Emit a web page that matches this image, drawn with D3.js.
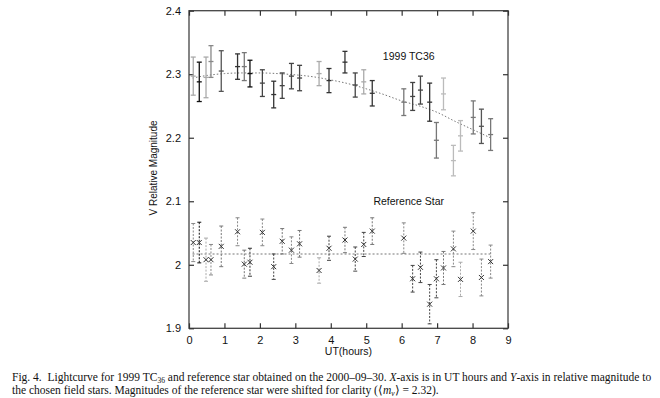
<!DOCTYPE html>
<html>
<head>
<meta charset="utf-8">
<script src="https://cdn.jsdelivr.net/npm/d3@7"></script>
<style>
  body { margin: 0; background: #fff; }
  svg text { font-family: "Liberation Sans", Arial, sans-serif; }
  .cap text { font-family: "Liberation Serif", "Times New Roman", serif; }
</style>
</head>
<body>
<div id="chart-area"></div>
<script>
// observation times (UT hours), shared by both series
var times = [0.12, 0.29, 0.48, 0.62, 0.91, 1.37, 1.56, 1.72, 2.07, 2.39,
             2.63, 2.89, 3.12, 3.67, 3.95, 4.40, 4.69, 4.93, 5.17, 6.06,
             6.31, 6.53, 6.79, 6.98, 7.18, 7.46, 7.66, 8.02, 8.25, 8.51];

// 1999 TC36 magnitudes and errors
var tcMag = [2.297, 2.288, 2.295, 2.320, 2.305, 2.312, 2.312, 2.301, 2.286, 2.268,
             2.282, 2.297, 2.294, 2.301, 2.290, 2.319, 2.283, 2.288, 2.270, 2.256,
             2.265, 2.275, 2.256, 2.196, 2.269, 2.164, 2.203, 2.232, 2.218, 2.205];
var tcErr = [0.030, 0.031, 0.032, 0.025, 0.032, 0.020, 0.022, 0.021, 0.021, 0.021,
             0.020, 0.020, 0.020, 0.019, 0.019, 0.017, 0.019, 0.019, 0.020, 0.021,
             0.022, 0.022, 0.030, 0.028, 0.025, 0.024, 0.024, 0.026, 0.027, 0.025];

// reference star magnitudes (shifted) and errors
var refMag = [2.035, 2.035, 2.008, 2.008, 2.029, 2.052, 2.001, 2.004, 2.051, 1.997,
              2.037, 2.023, 2.033, 1.991, 2.026, 2.039, 2.009, 2.032, 2.053, 2.042,
              1.978, 1.996, 1.938, 1.978, 1.995, 2.025, 1.977, 2.053, 1.980, 2.005];
var refErr = [0.030, 0.032, 0.034, 0.024, 0.032, 0.022, 0.022, 0.022, 0.021, 0.020,
              0.020, 0.021, 0.021, 0.020, 0.019, 0.020, 0.019, 0.019, 0.021, 0.024,
              0.021, 0.024, 0.031, 0.030, 0.026, 0.028, 0.027, 0.029, 0.029, 0.026];

// fitted curve for TC36
var fitX = [0.1, 0.5, 1, 1.5, 2, 2.5, 3, 3.5, 4, 4.5, 5, 5.5, 6, 6.5, 7, 7.5, 8, 8.5];
var fitY = [2.294, 2.298, 2.301, 2.302, 2.302, 2.301, 2.299, 2.296, 2.291, 2.285,
            2.277, 2.268, 2.258, 2.250, 2.240, 2.226, 2.213, 2.200];

// mean level of reference star
var refLevelX = [0.1, 8.5];
var refLevel = 2.017;

var xTicks = [0, 1, 2, 3, 4, 5, 6, 7, 8, 9];
var yTicks = [1.9, 2.0, 2.1, 2.2, 2.3, 2.4];
var yTickLabels = ["1.9", "2", "2.1", "2.2", "2.3", "2.4"];

// grey shades of each bar (styles)
var tcShade = ["#aaa", "#111", "#aaa", "#888", "#555", "#333", "#777", "#111", "#444", "#333",
               "#444", "#444", "#444", "#aaa", "#333", "#333", "#444", "#aaa", "#333", "#777",
               "#444", "#444", "#333", "#777", "#bbb", "#bbb", "#bbb", "#777", "#555", "#777"];
var refShade = ["#888", "#111", "#aaa", "#888", "#777", "#888", "#777", "#333", "#888", "#444",
                "#777", "#888", "#777", "#aaa", "#444", "#777", "#444", "#444", "#777", "#888",
                "#444", "#444", "#444", "#444", "#777", "#888", "#aaa", "#888", "#888", "#888"];

var W = 660, H = 398;
var plot = {left: 189, right: 508, top: 10.7, bottom: 328.3};

var svg = d3.select('#chart-area')
    .append('svg')
        .attr('width', W)
        .attr('height', H);

var x = d3.scaleLinear()
    .domain([0, 9])
    .range([plot.left, plot.right]);

var y = d3.scaleLinear()
    .domain([1.9, 2.4])
    .range([plot.bottom, plot.top]);

// frame
svg.append('rect')
    .attr('x', plot.left)
    .attr('y', plot.top)
    .attr('width', plot.right - plot.left)
    .attr('height', plot.bottom - plot.top)
    .attr('fill', 'none')
    .attr('stroke', '#444')
    .attr('stroke-width', 1.3);

// axes with inward ticks
var bottomAxis = d3.axisBottom(x).tickValues(xTicks).tickSizeInner(-5).tickSizeOuter(0).tickPadding(8);
var gx = svg.append('g')
    .attr('class', 'bottom axis')
    .attr('transform', 'translate(0,' + plot.bottom + ')')
    .call(bottomAxis);

var leftAxis = d3.axisLeft(y).tickValues(yTicks).tickSizeInner(-5).tickSizeOuter(0).tickPadding(8)
    .tickFormat((d, i) => yTickLabels[i]);
var gy = svg.append('g')
    .attr('class', 'left axis')
    .attr('transform', 'translate(' + plot.left + ',0)')
    .call(leftAxis);

var topAxis = d3.axisTop(x).tickValues(xTicks).tickSizeInner(-5).tickSizeOuter(0).tickFormat('');
var gt = svg.append('g')
    .attr('transform', 'translate(0,' + plot.top + ')')
    .call(topAxis);

var rightAxis = d3.axisRight(y).tickValues(yTicks).tickSizeInner(-5).tickSizeOuter(0).tickFormat('');
var gr = svg.append('g')
    .attr('transform', 'translate(' + plot.right + ',0)')
    .call(rightAxis);

[gx, gy, gt, gr].forEach((g) => {
    g.select('.domain').remove();
    g.selectAll('line').attr('stroke', '#333').attr('stroke-width', 1.2);
    g.selectAll('text').attr('font-size', '11px').attr('fill', '#111');
});

// axis labels
svg.append('text')
    .attr('x', (plot.left + plot.right) / 2)
    .attr('y', 355)
    .attr('text-anchor', 'middle')
    .attr('font-size', '10.5px')
    .attr('fill', '#111')
    .text('UT(hours)');

svg.append('text')
    .attr('transform', 'translate(157,168) rotate(-90)')
    .attr('text-anchor', 'middle')
    .attr('font-size', '10px')
    .attr('fill', '#111')
    .text('V Relative Magnitude');

// fitted curve
var line = d3.line()
    .x((d) => x(d[0]))
    .y((d) => y(d[1]))
    .curve(d3.curveMonotoneX);

svg.append('path')
    .datum(fitX.map((d, i) => [d, fitY[i]]))
    .attr('d', line)
    .attr('fill', 'none')
    .attr('stroke', '#777')
    .attr('stroke-width', 1)
    .attr('stroke-dasharray', '1.5,2');

svg.append('path')
    .datum(refLevelX.map((d) => [d, refLevel]))
    .attr('d', line)
    .attr('fill', 'none')
    .attr('stroke', '#777')
    .attr('stroke-width', 1.2)
    .attr('stroke-dasharray', '2,2');

// TC36 error bars
var tc = svg.append('g').selectAll('g').data(times).enter().append('g')
    .attr('stroke', (d, i) => tcShade[i])
    .attr('stroke-width', 1.3);

tc.append('line')
    .attr('x1', (d) => x(d)).attr('x2', (d) => x(d))
    .attr('y1', (d, i) => y(tcMag[i] + tcErr[i]))
    .attr('y2', (d, i) => y(tcMag[i] - tcErr[i]));
[1, 0, -1].forEach((k) => {
    tc.append('line')
        .attr('x1', (d) => x(d) - 2.5).attr('x2', (d) => x(d) + 2.5)
        .attr('y1', (d, i) => y(tcMag[i] + k * tcErr[i]))
        .attr('y2', (d, i) => y(tcMag[i] + k * tcErr[i]));
});

// reference star error bars
var rs = svg.append('g').selectAll('g').data(times).enter().append('g')
    .attr('stroke', (d, i) => refShade[i])
    .attr('stroke-width', 1);

rs.append('line')
    .attr('x1', (d) => x(d)).attr('x2', (d) => x(d))
    .attr('y1', (d, i) => y(refMag[i] + refErr[i]))
    .attr('y2', (d, i) => y(refMag[i] - refErr[i]))
    .attr('stroke-dasharray', '2,1.5');
[1, -1].forEach((k) => {
    rs.append('line')
        .attr('x1', (d) => x(d) - 2).attr('x2', (d) => x(d) + 2)
        .attr('y1', (d, i) => y(refMag[i] + k * refErr[i]))
        .attr('y2', (d, i) => y(refMag[i] + k * refErr[i]));
});
rs.append('path')
    .attr('d', (d, i) => {
        var cx = x(d), cy = y(refMag[i]), s = 2.5;
        return 'M' + (cx - s) + ',' + (cy - s) + 'L' + (cx + s) + ',' + (cy + s) +
               'M' + (cx - s) + ',' + (cy + s) + 'L' + (cx + s) + ',' + (cy - s);
    })
    .attr('stroke', '#333')
    .attr('stroke-width', 1);

// series labels
svg.append('text')
    .attr('x', x(6.2))
    .attr('y', 60)
    .attr('text-anchor', 'middle')
    .attr('font-size', '10.5px')
    .attr('fill', '#111')
    .text('1999 TC36');

svg.append('text')
    .attr('x', x(6.2))
    .attr('y', 205)
    .attr('text-anchor', 'middle')
    .attr('font-size', '10.5px')
    .attr('fill', '#111')
    .text('Reference Star');

// caption
var cap = svg.append('g').attr('class', 'cap').attr('font-size', '11.5px').attr('fill', '#111');

var l1 = cap.append('text').attr('x', 12).attr('y', 381);
l1.append('tspan').text('Fig. 4.\u2002Lightcurve for 1999 TC');
l1.append('tspan').attr('font-size', '7.5px').attr('dy', 2).text('36');
l1.append('tspan').attr('dy', -2).text(' and reference star obtained on the 2000\u201309\u201330. ');
l1.append('tspan').attr('font-style', 'italic').text('X');
l1.append('tspan').text('-axis is in UT hours and ');
l1.append('tspan').attr('font-style', 'italic').text('Y');
l1.append('tspan').text('-axis in relative magnitude to');

var l2 = cap.append('text').attr('x', 12).attr('y', 394);
l2.append('tspan').text('the chosen field stars. Magnitudes of the reference star were shifted for clarity (\u27E8');
l2.append('tspan').attr('font-style', 'italic').text('m');
l2.append('tspan').attr('font-size', '7.5px').attr('font-style', 'italic').attr('dy', 2).text('v');
l2.append('tspan').attr('dy', -2).text('\u27E9 = 2.32).');
</script>
</body>
</html>
